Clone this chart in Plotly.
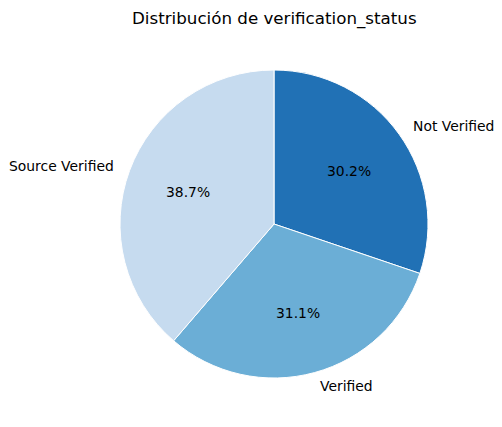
import math
import plotly.graph_objects as go

labels = ["Not Verified", "Verified", "Source Verified"]
values = [30.2, 31.1, 38.7]
colors = ["#2171b5", "#6baed6", "#c6dbef"]
title = "Distribución de verification_status"

W, H = 502, 427
cx_px, cy_px, r_px = 274, 224, 153

def px2paper(x, y):
    return x / W, 1 - y / H

fig = go.Figure()
dr = r_px + 1
x0, y0 = px2paper(cx_px - dr, cy_px + dr)
x1, y1 = px2paper(cx_px + dr, cy_px - dr)
fig.add_trace(go.Pie(
    labels=labels, values=values, sort=False, direction="clockwise", rotation=0,
    marker=dict(colors=colors, line=dict(color="white", width=1)),
    textinfo="none", hoverinfo="label+percent", showlegend=False,
    domain=dict(x=[x0, x1], y=[y0, y1]),
))

total = sum(values)
start = 90.0
font = dict(family="DejaVu Sans", size=13.9, color="black")
for lab, v in zip(labels, values):
    sweep = 360.0 * v / total
    mid = math.radians(start - sweep / 2)
    start -= sweep
    c, s = math.cos(mid), math.sin(mid)
    px, py = px2paper(cx_px + 0.6 * r_px * c, cy_px - 0.6 * r_px * s)
    fig.add_annotation(x=px, y=py, xref="paper", yref="paper", showarrow=False,
                       text=f"{100 * v / total:.1f}%", xanchor="center", yanchor="middle", font=font)
    lx, ly = px2paper(cx_px + 1.1 * r_px * c, cy_px - 1.1 * r_px * s)
    fig.add_annotation(x=lx, y=ly, xref="paper", yref="paper", showarrow=False,
                       text=lab, xanchor="left" if c > 0 else "right", yanchor="middle", font=font)

tx, ty = px2paper(cx_px, 18)
fig.add_annotation(x=tx, y=ty, xref="paper", yref="paper", showarrow=False, text=title,
                   xanchor="center", yanchor="middle",
                   font=dict(family="DejaVu Sans", size=16.7, color="black"))

fig.update_layout(width=W, height=H, margin=dict(l=0, r=0, t=0, b=0),
                  paper_bgcolor="white", plot_bgcolor="white")
fig.write_html("out.html")
